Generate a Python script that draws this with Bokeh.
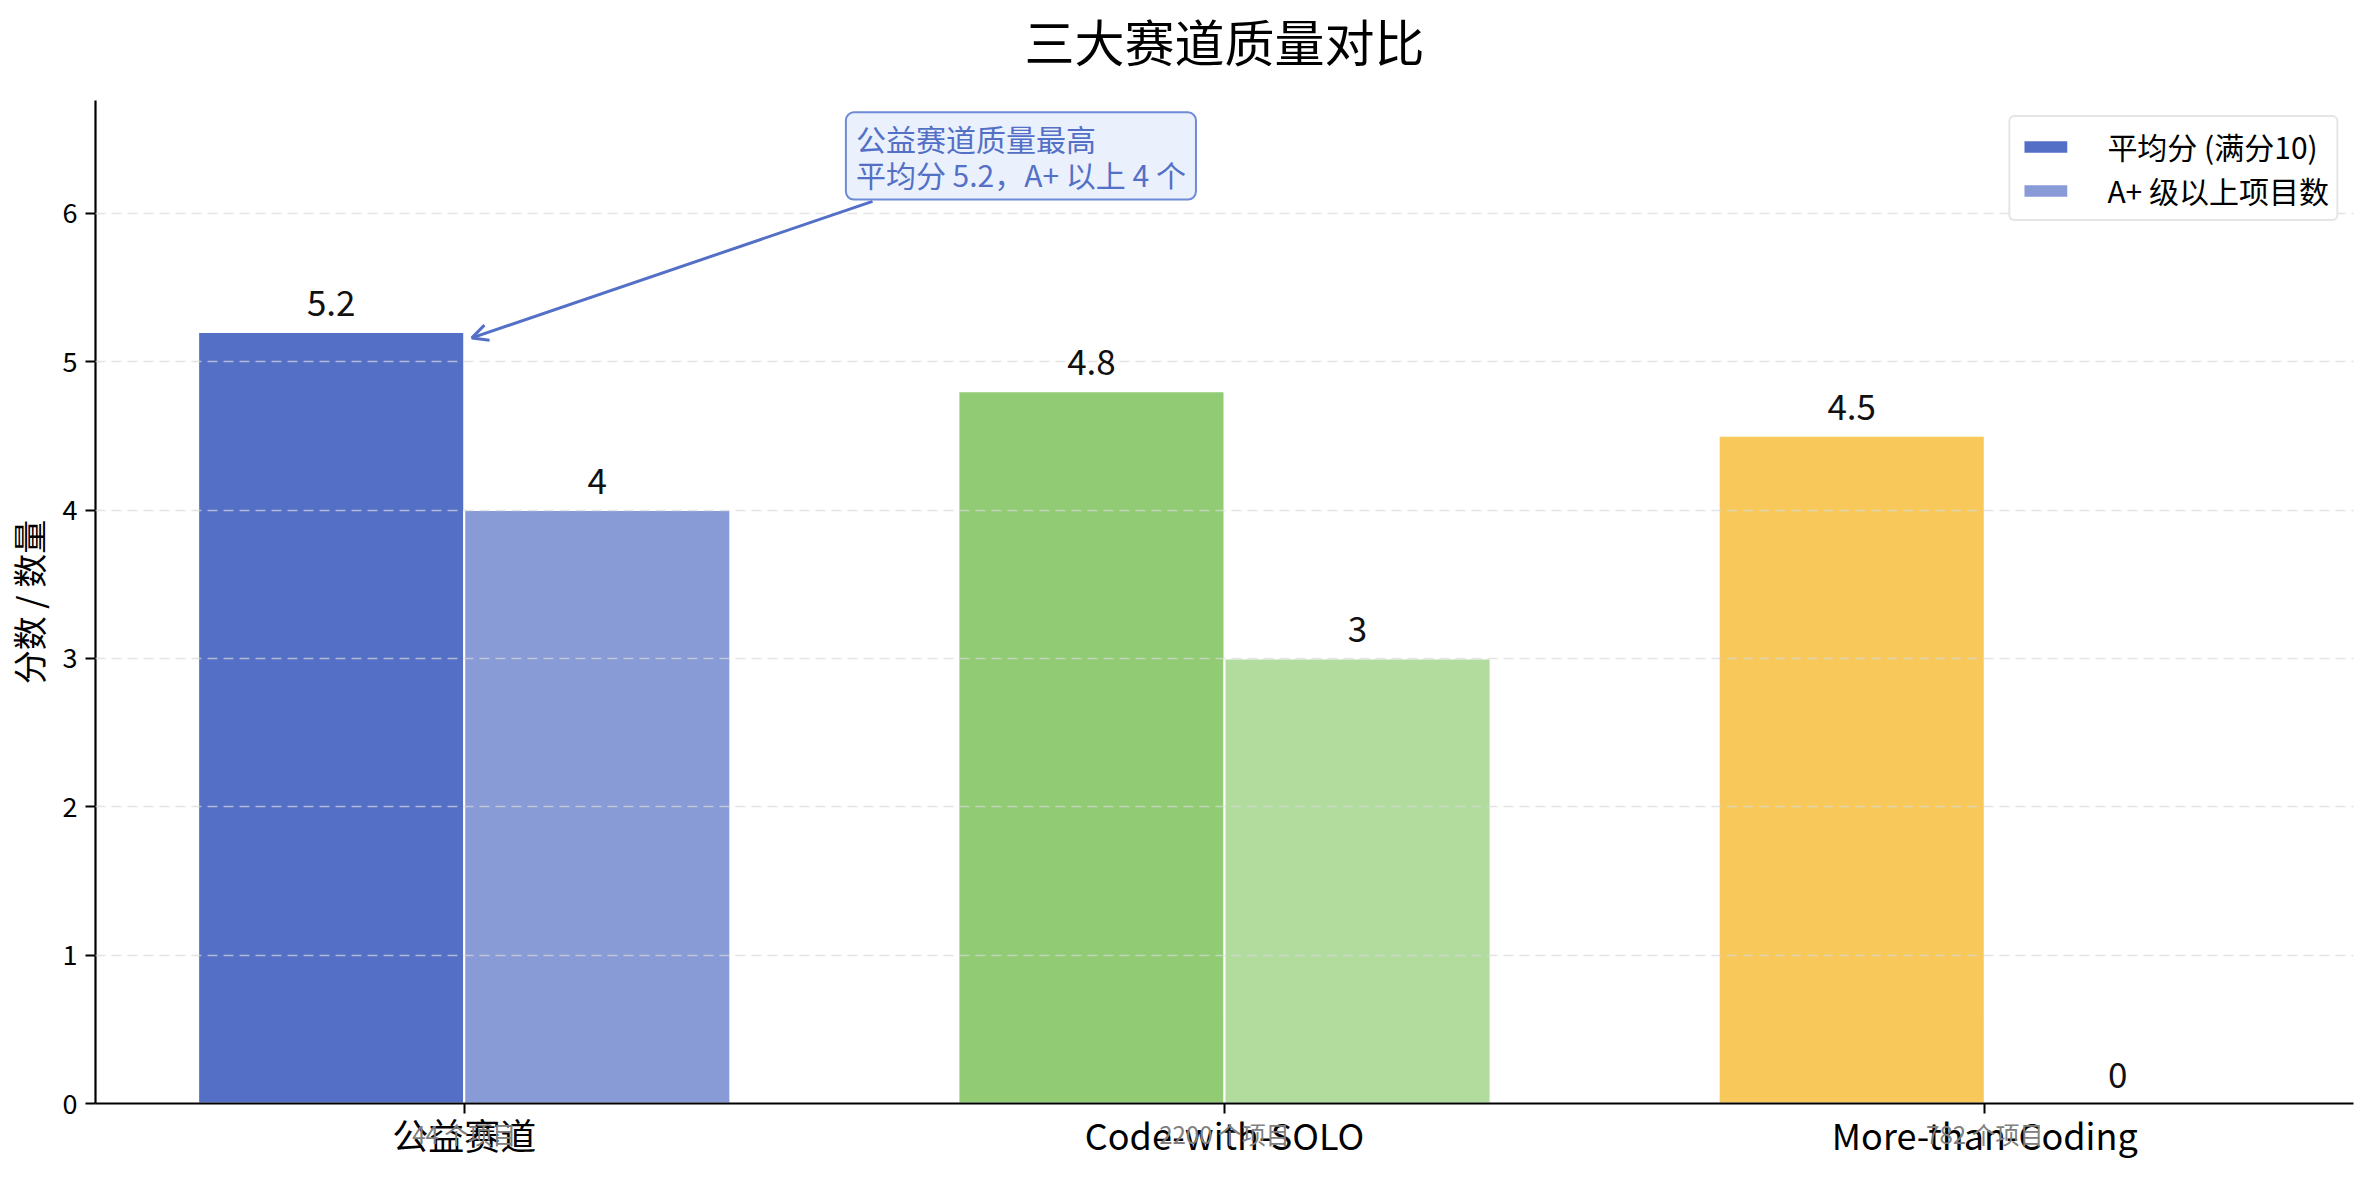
import numpy as np
from bokeh.plotting import figure
from bokeh.models import (ColumnDataSource, Range1d, FixedTicker, LabelSet, Label,
                          Arrow, OpenHead, Legend, LegendItem, LinearAxis)
from bokeh.core.properties import value
from bokeh.embed import file_html
from bokeh.resources import INLINE

# ---- data ----
categories = ["公益赛道", "Code-with-SOLO", "More-than-Coding"]
avg_scores = [5.2, 4.8, 4.5]
aplus_counts = [4, 3, 0]
project_counts = ["44 个项目", "2200 个项目", "782 个项目"]
score_colors = ["#5470C6", "#91CC75", "#F8C85A"]
count_colors = ["#889BD7", "#B2DB9E", "#FAD98E"]
series_names = ["平均分 (满分10)", "A+ 级以上项目数"]
title_text = "三大赛道质量对比"
ylabel_text = "分数 / 数量"
note_text = "公益赛道质量最高\n平均分 5.2，A+ 以上 4 个"

FONT = "Noto Sans CJK SC"
bar_w = 0.35
pos = np.arange(len(categories))

src_a = ColumnDataSource(dict(x=pos - bar_w / 2, top=avg_scores, color=score_colors,
                              label=[f"{v:g}" for v in avg_scores]))
src_b = ColumnDataSource(dict(x=pos + bar_w / 2, top=aplus_counts, color=count_colors,
                              label=[f"{v:g}" for v in aplus_counts]))

ymax = max(avg_scores) * 1.3
p = figure(width=2364, height=1164, output_backend="svg", toolbar_location=None,
           x_range=Range1d(-0.485, 2.485), y_range=Range1d(0, ymax),
           min_border_left=95, min_border_right=11, min_border_top=100, min_border_bottom=61)
p.outline_line_color = None
p.background_fill_color = "white"
xax = p.below[0]
yax = p.left[0]

r1 = p.vbar(x="x", top="top", width=bar_w, fill_color="color", line_color="white",
            line_width=2, source=src_a)
r2 = p.vbar(x="x", top="top", width=bar_w, fill_color="color", line_color="white",
            line_width=2, source=src_b)

# grid
p.xgrid.grid_line_color = None
p.ygrid.grid_line_color = "#d9d9d9"
p.ygrid.grid_line_dash = "10 6"
p.ygrid.grid_line_width = 1.5
p.ygrid.grid_line_alpha = 0.7
p.ygrid.level = "guide"

# axes
xax.ticker = FixedTicker(ticks=list(pos))
xax.major_label_overrides = {float(i): c for i, c in zip(pos, categories)}
yax.ticker = FixedTicker(ticks=list(range(0, 7)))
for ax in (xax, yax):
    ax.axis_line_width = 2.2
    ax.axis_line_color = "black"
    ax.major_tick_line_width = 2
    ax.major_tick_line_color = "black"
    ax.major_tick_out = 10
    ax.major_tick_in = 0
    ax.minor_tick_line_color = None
    ax.major_label_text_font = FONT
    ax.major_label_text_color = "black"
xax.major_label_text_font_size = "36px"
xax.major_label_standoff = -6
yax.major_label_text_font_size = "27px"
yax.major_label_standoff = 8
yax.axis_label = ylabel_text
yax.axis_label_text_font = FONT
yax.axis_label_text_font_size = "34px"
yax.axis_label_text_font_style = "normal"
yax.axis_label_text_color = "black"
yax.axis_label_standoff = 7

# title, drawn as the label of a bare axis above the plot so its distance is exact
title_axis = LinearAxis(ticker=FixedTicker(ticks=[]), axis_label=title_text,
                        axis_label_text_font=FONT, axis_label_text_font_size="50px",
                        axis_label_text_font_style="normal", axis_label_text_color="#000000",
                        axis_label_standoff=25, axis_line_color=None,
                        major_tick_line_color=None, minor_tick_line_color=None,
                        major_tick_out=0, minor_tick_out=0)
p.add_layout(title_axis, "above")

# project counts: a second bottom axis whose labels sit over the category names
count_axis = LinearAxis(ticker=FixedTicker(ticks=list(pos)),
                        major_label_overrides={float(i): c for i, c in zip(pos, project_counts)},
                        axis_line_color=None, major_tick_line_color=None,
                        minor_tick_line_color=None, major_label_standoff=-53,
                        major_label_text_font=FONT, major_label_text_font_size="24px",
                        major_label_text_color="#808080")
p.add_layout(count_axis, "below")

# value labels
for s in (src_a, src_b):
    p.add_layout(LabelSet(x="x", y="top", text="label", source=s, text_align="center",
                          text_baseline="alphabetic", y_offset=16, text_font=value(FONT),
                          text_font_size=value("35px"), text_color=value("#111111")))

# annotation arrow + box
p.add_layout(Arrow(end=OpenHead(size=16, line_color="#5470C6", line_width=3),
                   x_start=0.537, y_start=6.08, x_end=0.01, y_end=5.16,
                   line_color="#5470C6", line_width=3))
note = Label(x=0.502, y=6.68, text=note_text, text_align="left", text_baseline="top",
             text_font=FONT, text_font_size="30px", text_color="#5470C6",
             text_line_height=0.8,
             background_fill_color="#EAF1FD", background_fill_alpha=1.0,
             border_line_color="#6F8AD6", border_line_width=2, padding=(10, 4))
try:
    note.border_radius = 8
except Exception:
    pass
p.add_layout(note)

# legend
legend = Legend(items=[LegendItem(label=series_names[0], renderers=[r1], index=0),
                       LegendItem(label=series_names[1], renderers=[r2], index=0)],
                location="top_right", margin=15, padding=7, spacing=0,
                glyph_width=56, glyph_height=17, label_standoff=34,
                label_text_font=FONT, label_text_font_size="30px",
                label_text_color="black",
                border_line_color="#cccccc", border_line_width=2,
                background_fill_color="white", background_fill_alpha=1.0)
try:
    legend.border_radius = 6
except Exception:
    pass
p.add_layout(legend)

open("out.html", "w").write(file_html(p, INLINE))
